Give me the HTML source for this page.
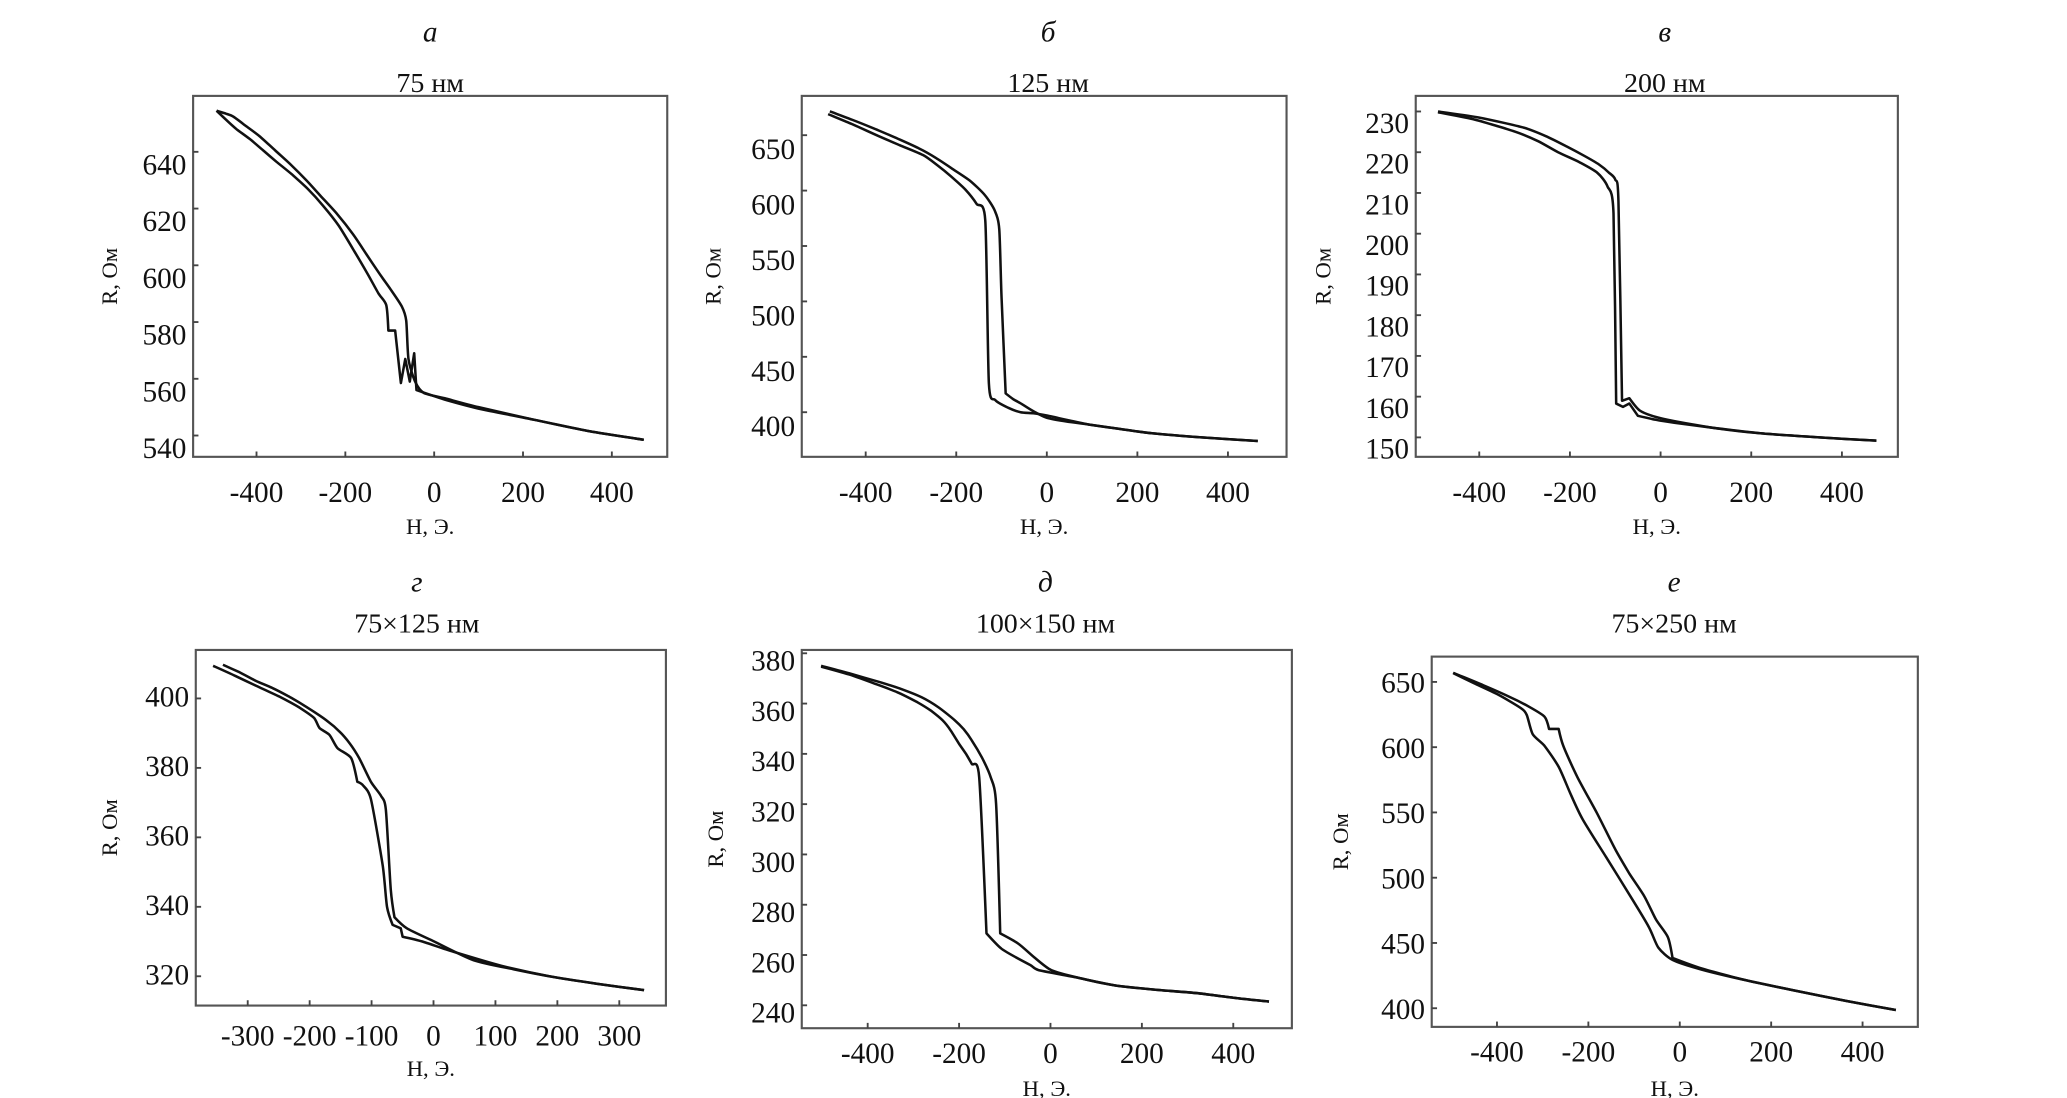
<!DOCTYPE html>
<html><head><meta charset="utf-8"><style>
html,body{margin:0;padding:0;background:#fff;}
svg{display:block;}
text{font-family:"Liberation Serif","DejaVu Serif",serif;fill:#111;}
</style></head><body>
<svg id="fig" width="2067" height="1098" viewBox="0 0 1552 824.4" preserveAspectRatio="none" xmlns="http://www.w3.org/2000/svg"></svg>
<script>
// ---- data (H in Oe, R in Ohm) ----
const aUpH=[-490,-470,-453,-423,-393,-358,-323,-288,-253,-218,-183,-153,-123,-98,-73,-63,-58,-43,-23,27,100,227,350,472];
const aUpR=[654.5,653.5,652.5,649,645.5,640.5,635.5,630,624,618,611,604,597,591.5,585.5,580.5,567,559,555,553,550,545.5,541.5,538.5];
const aLoH=[-490,-470,-445,-415,-385,-355,-320,-285,-250,-215,-180,-150,-125,-108,-103,-88,-75,-65,-55,-45,-40,27,100,227,350,472];
const aLoR=[654.5,651.5,648,644.5,640.5,636.5,632,627,621,614,605,597,590,586,577,577,558.5,567,559,569,556,552.5,549.5,545.5,541.5,538.5];

const bUpH=[-479,-430,-376,-330,-282,-245,-208,-170,-137,-115,-105,-100,-91,-75,-58,-30,0,45,92,160,232,350,466];
const bUpR=[671.5,664,655,647,638,629.5,619.5,609,596,582,565,504,417,412,408,401,395,391.5,389,385,381,377,374];
const bLoH=[-483,-430,-376,-325,-273,-242,-212,-180,-155,-136,-128,-114,-85,-58,-30,0,45,92,160,232,350,466];
const bLoR=[669,660,650,641,632,623,613,601,588,573,426,411,404,400,399,397,393,389,385,381,377,374];

const cUpH=[-491,-400,-301,-250,-207,-170,-136,-114,-100,-93,-85,-69,-46,-10,30,120,220,350,476];
const cUpR=[230,228.5,226,223.8,221.4,219.2,217,215,213.3,208,159,159.6,156.6,155,154,152.3,151,150,149.2];
const cLoH=[-491,-410,-320,-270,-226,-180,-140,-117,-104,-98,-83,-69,-50,-10,30,120,220,350,476];
const cLoR=[229.8,228,225,222.7,220,217.6,215,211.6,205,158.3,157.5,158.3,155.3,154.3,153.6,152.3,151,150,149.2];

const dUpH=[-340,-313,-286,-260,-235,-212,-190,-170,-152,-135,-120,-101,-85,-77,-69,-63,-43,1,65,130,193,265,340];
const dUpR=[409.7,407.5,405,403,400.7,398.3,395.8,393.3,390.5,387,382.8,376,372,368,345,337,333.8,330,324.6,322,319.8,317.8,316];
const dLoH=[-356,-320,-286,-250,-216,-193,-184,-168,-155,-133,-123,-114,-101,-82,-75,-66,-53,-50,-18,33,110,193,265,340];
const dLoR=[409.4,406.5,403.6,400.6,397.3,394.4,391.5,389.5,385.7,382.8,376,375,371,351.8,340,334.8,333.8,331.4,330,327,323,319.8,317.8,316];

const eUpH=[-502,-440,-373,-330,-282,-245,-209,-190,-172,-150,-131,-119,-110,-71,-35,2,60,139,230,322,400,478];
const eUpR=[375,372,368.5,366,362.5,358.5,353.3,349.8,345.3,338.5,330.8,320.2,268.6,264.6,259,254,251,248,246.2,244.8,243,241.5];
const eLoH=[-502,-440,-383,-335,-291,-262,-236,-218,-200,-185,-172,-156,-140,-108,-75,-44,-26,48,139,230,322,400,478];
const eLoR=[374.7,371.5,367.8,364.5,360.5,357.2,353.3,349.2,344,340,336,330.8,268.6,262.6,259,256,254,251.4,248,246.2,244.8,243,241.5];

const fUpH=[-496,-430,-369,-330,-296,-286,-265,-255,-224,-182,-140,-110,-78,-52,-26,-16,47,150,255,365,473];
const fUpR=[657,647.5,638,631,623.4,614,614,601,577,550,521,503,486,468,454.5,438.6,430.6,421,413.3,405.5,398.7];
const fLoH=[-496,-450,-400,-348,-335,-322,-296,-265,-240,-213,-161,-109,-68,-47,-16,47,150,255,365,473];
const fLoR=[656.7,649,640.7,630,624.8,610,601,585,565,545,515.7,486.4,462.5,446.5,437,429.7,421,413.3,405.5,398.7];

const xTicks5=[-400,-200,0,200,400];
const xTicks7=[-300,-200,-100,0,100,200,300];
const yTicksA=[540,560,580,600,620,640];
const yTicksB=[400,450,500,550,600,650];
const yTicksC=[150,160,170,180,190,200,210,220,230];
const yTicksD=[320,340,360,380,400];
const yTicksE=[240,260,280,300,320,340,360,380];
const yTicksF=[400,450,500,550,600,650];

const NS="http://www.w3.org/2000/svg";
const svg=document.getElementById('fig');
function mk(tag,attrs,parent){const e=document.createElementNS(NS,tag);for(const k in attrs)e.setAttribute(k,attrs[k]);(parent||svg).appendChild(e);return e;}

function sharp(a,b,c){
  const ux=b[0]-a[0],uy=b[1]-a[1],vx=c[0]-b[0],vy=c[1]-b[1];
  const lu=Math.hypot(ux,uy),lv=Math.hypot(vx,vy);
  if(lu<1e-6||lv<1e-6)return false;
  return (ux*vx+uy*vy)/(lu*lv)<Math.cos(40*Math.PI/180);
}
function smoothPath(pts){
  const n=pts.length;
  let d='M'+pts[0][0].toFixed(1)+' '+pts[0][1].toFixed(1);
  for(let i=0;i<n-1;i++){
    const p0=pts[Math.max(0,i-1)],p1=pts[i],p2=pts[i+1],p3=pts[Math.min(n-1,i+2)];
    const t=0.12;
    let c1=[p1[0]+(p2[0]-p0[0])*t,p1[1]+(p2[1]-p0[1])*t];
    let c2=[p2[0]-(p3[0]-p1[0])*t,p2[1]-(p3[1]-p1[1])*t];
    if(i>0&&sharp(p0,p1,p2))c1=p1;
    if(i+2<n&&sharp(p1,p2,p3))c2=p2;
    d+=' C'+c1[0].toFixed(1)+' '+c1[1].toFixed(1)+' '+c2[0].toFixed(1)+' '+c2[1].toFixed(1)+' '+p2[0].toFixed(1)+' '+p2[1].toFixed(1);
  }
  return d;
}

const panels=[
 {key:'a',letter:'а',title:'75 нм',box:[145,72,501,343],xa:[-400,192.6,400,459.4],ya:[540,327,640,114],xt:xTicks5,yt:yTicksA,yoff:9,up:[aUpH,aUpR],lo:[aLoH,aLoR],cx:323,ly:24,ty:62,xly:377,xty:401,ytx:88},
 {key:'b',letter:'б',title:'125 нм',box:[602,72,966,343],xa:[-400,650,400,922],ya:[400,309.5,650,101.5],xt:xTicks5,yt:yTicksB,yoff:10,up:[bUpH,bUpR],lo:[bLoH,bLoR],cx:787,ly:24,ty:62,xly:377,xty:401,ytx:541},
 {key:'c',letter:'в',title:'200 нм',box:[1063,72,1425,343],xa:[-400,1110.7,400,1383],ya:[150,328.4,230,83.7],xt:xTicks5,yt:yTicksC,yoff:8,up:[cUpH,cUpR],lo:[cLoH,cLoR],cx:1250,ly:24,ty:62,xly:377,xty:401,ytx:999},
 {key:'d',letter:'г',title:'75×125 нм',box:[147,488,500,755],xa:[-300,186,300,465],ya:[320,733,400,524.4],xt:xTicks7,yt:yTicksD,yoff:-2,up:[dUpH,dUpR],lo:[dLoH,dLoR],cx:313,ly:437,ty:468,xly:785,xty:808,ytx:88},
 {key:'e',letter:'д',title:'100×150 нм',box:[602,488,970,772],xa:[-400,651.5,400,926],ya:[240,754.8,380,490.5],xt:xTicks5,yt:yTicksE,yoff:5,up:[eUpH,eUpR],lo:[eLoH,eLoR],cx:785,ly:437,ty:468,xly:798,xty:823,ytx:543},
 {key:'f',letter:'е',title:'75×250 нм',box:[1075,493,1440,771],xa:[-400,1124,400,1398.5],ya:[400,757,650,512],xt:xTicks5,yt:yTicksF,yoff:0,up:[fUpH,fUpR],lo:[fLoH,fLoR],cx:1257,ly:437,ty:468,xly:797,xty:823,ytx:1012}
];

panels.forEach(p=>{
  const g=mk('g',{});
  
  
  const sx=v=>p.xa[1]+(v-p.xa[0])*(p.xa[3]-p.xa[1])/(p.xa[2]-p.xa[0]);
  const sy=v=>p.ya[1]+(v-p.ya[0])*(p.ya[3]-p.ya[1])/(p.ya[2]-p.ya[0]);
  const [x0,y0,x1,y1]=p.box;
  const lt=mk('text',{x:p.cx,y:p.ly+7,'text-anchor':'middle','font-size':22,'font-style':'italic'},g);
  lt.textContent=p.letter;
  
  
  const tt=mk('text',{x:p.cx,y:p.ty+7,'text-anchor':'middle','font-size':21},g);
  tt.textContent=p.title;
  
  
  const fr=mk('rect',{x:x0,y:y0,width:x1-x0,height:y1-y0,fill:'none',stroke:'#555','stroke-width':1.6},g);
  
  
  p.xt.forEach(v=>{
    const X=sx(v);
    const tk=mk('line',{x1:X,y1:y1,x2:X,y2:y1-4,stroke:'#444','stroke-width':1.4},g);
    
    
    const tl=mk('text',{x:X,y:p.xly,'text-anchor':'middle','font-size':22},g);
    tl.textContent=String(v);
    
    
  });
  p.yt.forEach(v=>{
    const Y=sy(v);
    const tk=mk('line',{x1:x0,y1:Y,x2:x0+4,y2:Y,stroke:'#444','stroke-width':1.4},g);
    
    
    const tl=mk('text',{x:x0-5,y:Y+p.yoff+8,'text-anchor':'end','font-size':22},g);
    tl.textContent=String(v);
    
    
  });
  const xt=mk('text',{x:(x0+x1)/2,y:p.xty,'text-anchor':'middle','font-size':17},g);
  xt.textContent='H, Э.';
  
  
  const yc=(y0+y1)/2;
  const yt=mk('text',{x:p.ytx,y:yc,'text-anchor':'middle','font-size':17,transform:'rotate(-90 '+p.ytx+' '+yc+')'},g);
  yt.textContent='R, Ом';
  
  
  [['up',p.up],['lo',p.lo]].forEach(([nm,s])=>{
    const pts=s[0].map((h,i)=>[sx(h),sy(s[1][i])]);
    const pa=mk('path',{d:smoothPath(pts),fill:'none',stroke:'#111','stroke-width':1.9,'stroke-linejoin':'round'},g);
    
    
  });
});
</script>
</body></html>
